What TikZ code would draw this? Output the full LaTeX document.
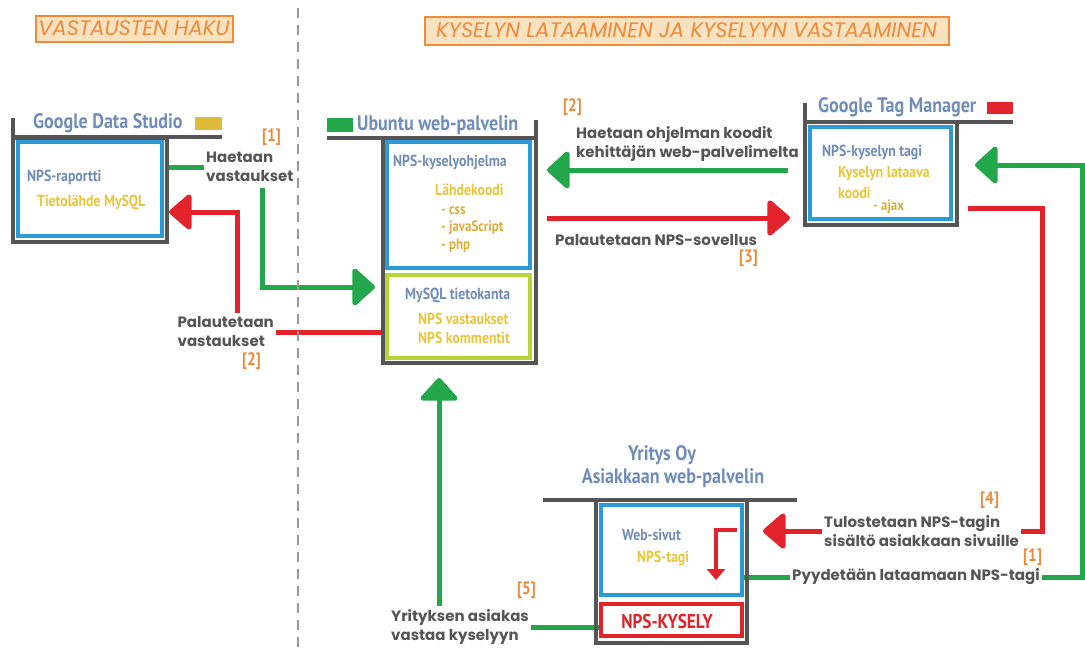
\documentclass[tikz,border=0pt]{standalone}
\usepackage{fontspec}
\setmainfont{PT Sans}
\newfontfamily\cond[FakeStretch=0.86]{PT Sans}
\newfontfamily\gothic{Poppins}
\usetikzlibrary{arrows.meta,calc}
\definecolor{cgreen}{HTML}{22A84A}
\definecolor{cred}{HTML}{E3232C}
\definecolor{cblue}{HTML}{2B9AD6}
\definecolor{cframe}{HTML}{555555}
\definecolor{cslate}{HTML}{6F8DB8}
\definecolor{cyellow}{HTML}{EAC53C}
\definecolor{cgold}{HTML}{D9B03A}
\definecolor{corange}{HTML}{EE8A3A}
\definecolor{cpeach}{HTML}{F8E2BF}
\definecolor{clime}{HTML}{B6D433}
\definecolor{ctext}{HTML}{555555}
\pgfdeclarelayer{back}
\pgfsetlayers{back,main}
\tikzset{
  header/.style={draw=corange,line width=2pt,fill=cpeach,text=corange,
    font=\gothic\itshape\fontsize{21}{24}\selectfont,inner sep=0pt},
  frame/.style={draw=cframe,line width=4pt},
  bracket/.style={draw=cframe,line width=4pt},
  inbox/.style={draw=#1,line width=4pt,fill=white},
  title/.style={font=\cond\bfseries\fontsize{21}{24}\selectfont,text=cslate,inner sep=1pt},
  slate/.style={font=\cond\bfseries\fontsize{16}{18}\selectfont,text=cslate,inner sep=1pt,anchor=west},
  yel/.style={font=\cond\bfseries\fontsize{16}{18}\selectfont,text=cyellow,inner sep=1pt,anchor=west},
  gold/.style={font=\cond\bfseries\fontsize{15}{17}\selectfont,text=cgold,inner sep=1pt,anchor=west},
  lbl/.style={font=\gothic\bfseries\fontsize{15}{19}\selectfont,text=ctext,align=left,inner sep=2pt},
  num/.style={font=\cond\bfseries\fontsize{18}{20}\selectfont,text=corange,inner sep=1pt,anchor=west},
  gline/.style={draw=cgreen,line width=5pt},
  rline/.style={draw=cred,line width=5pt},
  gflow/.style={gline,-{Triangle[length=24pt,width=42pt,round]}},
  rflow/.style={rline,-{Triangle[length=24pt,width=40pt,round]}},
}
\begin{document}
\begin{tikzpicture}[x=1pt,y=-1pt]
\useasboundingbox (0,0) rectangle (1085,649);
%section divider
\draw[draw=gray!80,line width=1.5pt,dash pattern=on 10pt off 7pt](298,8)--(298,649);
%section headers
\node[header,minimum width=197pt,minimum height=26pt](hhaku)at(134,28.5){VASTAUSTEN HAKU};
\node[header,minimum width=524pt,minimum height=28pt](hlataus)at(686.5,30.5){KYSELYN LATAAMINEN JA KYSELYYN VASTAAMINEN};

%Google Data Studio
\draw[bracket](13,118)--(13,137)--(222,137);
\node[frame,minimum width=154pt,minimum height=104pt](dsframe)at(90,189.5){};
\node[inbox=cblue,minimum width=144pt,minimum height=94pt](ds)at(90,189){};
\fill[cyellow!95!black](195,117)rectangle(222,130);
\node[title,anchor=west](dstitle)at(32,123){Google Data Studio};
\node[slate](dsrep)at(26,177){NPS-raportti};
\node[yel](dssrc)at(36,202){Tietolähde MySQL};

%Ubuntu web-palvelin
\draw[bracket](327,138)--(536,138)--(536,120);
\node[frame,minimum width=153pt,minimum height=225pt](ubu)at(459.5,250.5){};
\node[inbox=cblue,minimum width=143pt,minimum height=126pt](prog)at(458.5,205){};
\node[inbox=clime,minimum width=143pt,minimum height=83pt](mysql)at(458.5,316.5){};
\fill[cgreen](327,118)rectangle(353,132);
\node[title,anchor=west](ubutitle)at(356,125){Ubuntu web-palvelin};
\node[slate](progname)at(392,162){NPS-kyselyohjelma};
\node[yel](src)at(434,190){Lähdekoodi};
\node[gold](css)at(440,211){- css};
\node[gold](js)at(440,228){- javaScript};
\node[gold](php)at(440,246){- php};
\node[slate](dbname)at(404,296){MySQL tietokanta};
\node[yel](dbans)at(417,319){NPS vastaukset};
\node[yel](dbcom)at(417,338){NPS kommentit};

%Google Tag Manager
\draw[bracket](805,103)--(805,122)--(1013,122);
\node[frame,minimum width=152pt,minimum height=103pt](gtmframe)at(881,173.5){};
\node[inbox=cblue,minimum width=141pt,minimum height=92pt](gtm)at(880.5,173){};
\fill[cred](987,102)rectangle(1013,114);
\node[title,anchor=west](gtmtitle)at(817,107){Google Tag Manager};
\node[slate](tagname)at(821,152){NPS-kyselyn tagi};
\node[yel](tagload)at(837,174){Kyselyn lataava};
\node[yel](tagcode)at(837,193){koodi};
\node[gold](ajax)at(872,207){- ajax};

%Yritys Oy
\draw[bracket](543,500)--(797,500);
\node[frame,minimum width=151pt,minimum height=143pt](yrframe)at(671.5,571.5){};
\node[inbox=cblue,minimum width=141pt,minimum height=90pt](web)at(671.5,550){};
\node[inbox=cred,minimum width=141pt,minimum height=32pt](kysely)at(671.5,620){};
\node[title](yrname)at(662,455){Yritys Oy};
\node[title](yrserver)at(673,478){Asiakkaan web-palvelin};
\node[slate](websivut)at(621,535){Web-sivut};
\node[yel](webtag)at(636,558){NPS-tagi};
\node[font=\cond\bfseries\fontsize{20}{22}\selectfont,text=cred](kyselytxt)at(667,621){NPS-KYSELY};
\draw[cred,line width=3.5pt,-{Triangle[length=11pt,width=18pt]}](737,530)--(716,530)--(716,580);

%step labels
\node[num](n1a)at(261,137){[1]};
\node[lbl,anchor=west](haetaan)at(204,167){Haetaan\\vastaukset};
\node[lbl,anchor=east](palaut)at(276,332){Palautetaan\\vastaukset};
\node[num](n2a)at(241,361){[2]};
\node[num](n2b)at(562,107){[2]};
\node[lbl,anchor=west](hcode)at(574,144){Haetaan ohjelman koodit\\kehittäjän web-palvelimelta};
\node[lbl,anchor=west](palnps)at(553,240){Palautetaan NPS-sovellus};
\node[num](n3)at(738,258){[3]};
\node[num](n4)at(979,500){[4]};
\node[lbl,anchor=west](tulost)at(822,531){Tulostetaan NPS-tagin\\sisältö asiakkaan sivuille};
\node[num](n1b)at(1022,557){[1]};
\node[lbl,anchor=west](pyyd)at(790,577){Pyydetään lataamaan NPS-tagi};
\node[num](n5)at(516,590){[5]};
\node[lbl,anchor=west](asiakas)at(389,627){Yrityksen asiakas\\vastaa kyselyyn};

%bend points
\coordinate(g1start)at(262,188);
\coordinate(g1bend)at(262,287);
\coordinate(r2start)at(237,313);
\coordinate(r2bend)at(237,212);
\coordinate(g2start)at(788,170);
\coordinate(r3start)at(547,218);
\coordinate(r4start)at(968,208);
\coordinate(r4bend)at(1042,208);
\coordinate(gcorner)at(1082,165);
\coordinate(g5start)at(439,606);

%connectors
\begin{pgfonlayer}{back}
\draw[gline](dsframe.east|-haetaan.west)--(haetaan.west);
\draw[gflow,shorten >=10pt](g1start)--(g1bend)--(mysql.west|-g1bend);
\draw[rline](mysql.west|-palaut.east)--(palaut.east);
\draw[rflow](r2start)--(r2bend)--(dsframe.east|-r2bend);
\draw[gflow,shorten >=15pt](g2start)--(prog.east|-g2start);
\draw[rflow,shorten >=18pt](r3start)--(gtm.west|-r3start);
\draw[rline](r4start)--(r4bend)|-(tulost.east);
\draw[rflow,shorten >=19pt](tulost.west)--(web.east|-tulost.west);
\draw[gline](web.east|-pyyd.west)--(pyyd.west);
\draw[gflow,shorten >=22pt](pyyd.east)-|(gcorner)--(gtm.east|-gcorner);
\draw[gflow,shorten >=13pt](g5start)--(g5start|-ubu.south);
\draw[gline](asiakas.east)--(kysely.west|-asiakas.east);
\end{pgfonlayer}
\end{tikzpicture}
\end{document}
